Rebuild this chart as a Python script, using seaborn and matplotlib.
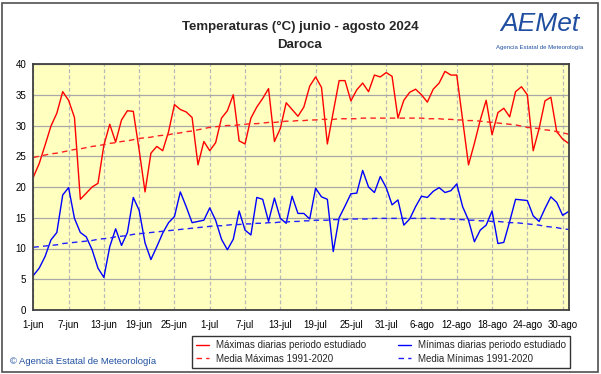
import numpy as np
import pandas as pd
import matplotlib
matplotlib.use("Agg")
import matplotlib.pyplot as plt
from matplotlib.patches import Rectangle
import seaborn as sns

# ---------------- data ----------------
tick_labels = ["1-jun", "7-jun", "13-jun", "19-jun", "25-jun", "1-jul", "7-jul", "13-jul",
               "19-jul", "25-jul", "31-jul", "6-ago", "12-ago", "18-ago", "24-ago", "30-ago"]

max_daily = [21.6, 23.8, 26.8, 29.9, 32.0, 35.5, 34.1, 31.3, 18.0, 19.0,
             20.0, 20.6, 26.8, 30.2, 27.3, 30.9, 32.4, 32.3, 26.0, 19.2,
             25.5, 26.6, 25.9, 29.0, 33.4, 32.6, 32.2, 31.3, 23.6, 27.4,
             25.9, 27.2, 31.2, 32.4, 35.0, 27.5, 27.0, 31.2, 33.0, 34.4,
             36.0, 27.4, 29.5, 33.7, 32.6, 31.5, 33.0, 36.4, 37.9, 36.2,
             27.0, 32.2, 37.3, 37.3, 34.0, 35.8, 36.9, 35.5, 38.2, 37.9,
             38.6, 38.0, 31.2, 34.1, 35.4, 35.9, 35.0, 33.8, 35.9, 36.9,
             38.8, 38.2, 38.2, 30.9, 23.6, 27.1, 30.9, 34.1, 28.5, 32.1,
             32.8, 31.4, 35.5, 36.3, 35.0, 25.9, 29.5, 34.0, 34.6, 29.0,
             27.8, 27.1]

min_daily = [5.6, 6.8, 8.7, 11.4, 12.6, 18.7, 19.9, 14.9, 12.6, 11.9,
             9.8, 6.8, 5.3, 10.3, 13.2, 10.5, 12.6, 18.3, 16.2, 10.9,
             8.2, 10.3, 12.5, 14.2, 15.2, 19.2, 16.8, 14.2, 14.4, 14.6,
             16.6, 14.6, 11.5, 9.8, 11.5, 16.1, 13.0, 12.2, 18.3, 18.0,
             14.4, 18.2, 14.9, 14.1, 18.5, 15.7, 15.7, 14.8, 19.8, 18.4,
             18.0, 9.5, 15.0, 16.9, 18.9, 19.0, 22.7, 20.0, 19.1, 21.7,
             19.9, 17.1, 17.9, 13.8, 14.8, 16.8, 18.5, 18.3, 19.3, 19.9,
             19.1, 19.4, 20.5, 16.8, 14.6, 11.1, 13.0, 13.8, 16.1, 10.8,
             11.0, 14.4, 18.0, 17.9, 17.8, 15.3, 14.4, 16.5, 18.4, 17.5,
             15.4, 16.0]

mean_max = [24.8, 25.0, 25.2, 25.4, 25.5, 25.7, 25.9,
            26.1, 26.2, 26.4, 26.6, 26.7, 26.9,
            27.1, 27.2, 27.4, 27.5, 27.7, 27.9,
            28.0, 28.1, 28.3, 28.4, 28.5, 28.7,
            28.8, 29.0, 29.1, 29.3, 29.5, 29.7,
            29.8, 29.9, 30.0, 30.0, 30.1, 30.2,
            30.3, 30.3, 30.4, 30.5, 30.5, 30.6,
            30.7, 30.7, 30.8, 30.8, 30.9, 30.9,
            31.0, 31.0, 31.0, 31.1, 31.1, 31.1,
            31.1, 31.2, 31.2, 31.2, 31.2, 31.2,
            31.2, 31.2, 31.2, 31.2, 31.2, 31.2,
            31.1, 31.1, 31.1, 31.0, 31.0, 30.9,
            30.9, 30.8, 30.8, 30.7, 30.6, 30.5,
            30.4, 30.3, 30.2, 30.1, 29.9, 29.7,
            29.6, 29.5, 29.3, 29.2, 29.0, 28.8, 28.6]

mean_min = [10.2, 10.3, 10.4, 10.5, 10.6, 10.8, 10.9,
            11.0, 11.1, 11.2, 11.3, 11.5, 11.6,
            11.7, 11.9, 12.0, 12.1, 12.3, 12.4,
            12.5, 12.6, 12.7, 12.8, 12.9, 13.0,
            13.1, 13.2, 13.3, 13.4, 13.5, 13.6,
            13.7, 13.7, 13.8, 13.9, 13.9, 14.0,
            14.0, 14.1, 14.1, 14.2, 14.2, 14.3,
            14.3, 14.4, 14.4, 14.5, 14.5, 14.6,
            14.6, 14.6, 14.7, 14.7, 14.7, 14.8,
            14.8, 14.8, 14.8, 14.9, 14.9, 14.9,
            14.9, 14.9, 14.9, 14.9, 14.9, 14.9,
            14.9, 14.9, 14.8, 14.8, 14.8, 14.7,
            14.7, 14.6, 14.6, 14.5, 14.5, 14.4,
            14.4, 14.3, 14.2, 14.2, 14.1, 14.0,
            13.9, 13.8, 13.6, 13.5, 13.4, 13.2, 13.1]

days = np.arange(len(max_daily))
df = pd.DataFrame({"day": days, "max": max_daily, "min": min_daily,
                   "mmax": mean_max, "mmin": mean_min})

# ---------------- style ----------------
sns.set_style("white")
plt.rcParams["font.family"] = ["Liberation Sans", "DejaVu Sans"]

W, H = 601, 374
fig = plt.figure(figsize=(W / 100, H / 100), dpi=100)
fig.patch.set_facecolor("white")

# outer frame
fig.add_artist(Rectangle((2 / W, 2 / H), (W - 5) / W, (H - 5) / H, transform=fig.transFigure,
                         fill=False, edgecolor="#505050", linewidth=1.2))

x0, x1, y0, y1 = 33.3, 568.5, 64, 310
ax = fig.add_axes([x0 / W, 1 - y1 / H, (x1 - x0) / W, (y1 - y0) / H])
ax.set_facecolor("#FFFFC0")

sns.lineplot(data=df, x="day", y="max", ax=ax, color="#FF0000", lw=1.0,
             label="Máximas diarias periodo estudiado")
sns.lineplot(data=df, x="day", y="mmax", ax=ax, color="#FF2020", lw=1.0,
             dashes=False, label="Media Máximas 1991-2020")
sns.lineplot(data=df, x="day", y="min", ax=ax, color="#0000FF", lw=1.0,
             label="Mínimas diarias periodo estudiado")
sns.lineplot(data=df, x="day", y="mmin", ax=ax, color="#2020FF", lw=1.0,
             dashes=False, label="Media Mínimas 1991-2020")
for ln in ax.get_lines()[1::2]:
    ln.set_linestyle((0, (4, 3)))

ax.set_xlim(0, 91)
ax.set_ylim(0, 40)
ax.set_xticks(np.arange(0, 91, 6))
ax.set_xticklabels(tick_labels)
ax.set_yticks(np.arange(0, 41, 5))
ax.set_xlabel("")
ax.set_ylabel("")
ax.tick_params(axis="both", length=0, labelsize=7, colors="black")
ax.tick_params(axis="x", pad=7)
ax.tick_params(axis="y", pad=5)

ax.yaxis.grid(True, color="#A8A8A8", lw=0.9, linestyle="-")
ax.xaxis.grid(True, color="#B8B8B8", lw=0.9, linestyle=(0, (3, 2)))
ax.set_axisbelow(True)
for s in ax.spines.values():
    s.set_color("#404040")
    s.set_linewidth(1.3)

handles, labels = ax.get_legend_handles_labels()
ax.get_legend().remove()
leg = fig.legend(handles, labels, ncol=2, loc="center",
                 bbox_to_anchor=(381 / W, 1 - 352 / H), frameon=True, fancybox=False,
                 edgecolor="black", fontsize=7, handlelength=1.3, handletextpad=0.7,
                 columnspacing=3.3, labelspacing=0.35, borderpad=0.45)
leg.get_frame().set_linewidth(1.0)

# titles
fig.text(300 / W, 1 - 27 / H, "Temperaturas (°C) junio - agosto 2024", ha="center", va="center",
         fontsize=9.5, fontweight="bold")
fig.text(300 / W, 1 - 45 / H, "Daroca", ha="center", va="center",
         fontsize=9.5, fontweight="bold")

# AEMet logo as text
fig.text(540 / W, 1 - 24 / H, "AEMet", ha="center", va="center", fontsize=19,
         color="#1f4ea0", style="italic")
fig.text(540 / W, 1 - 48 / H, "Agencia Estatal de Meteorología", ha="center", va="center",
         fontsize=4.3, color="#1f4ea0")

fig.text(10 / W, 1 - 361 / H, "© Agencia Estatal de Meteorología", ha="left", va="center",
         fontsize=6.8, color="#2050a0")

fig.savefig("out.png", dpi=100)
